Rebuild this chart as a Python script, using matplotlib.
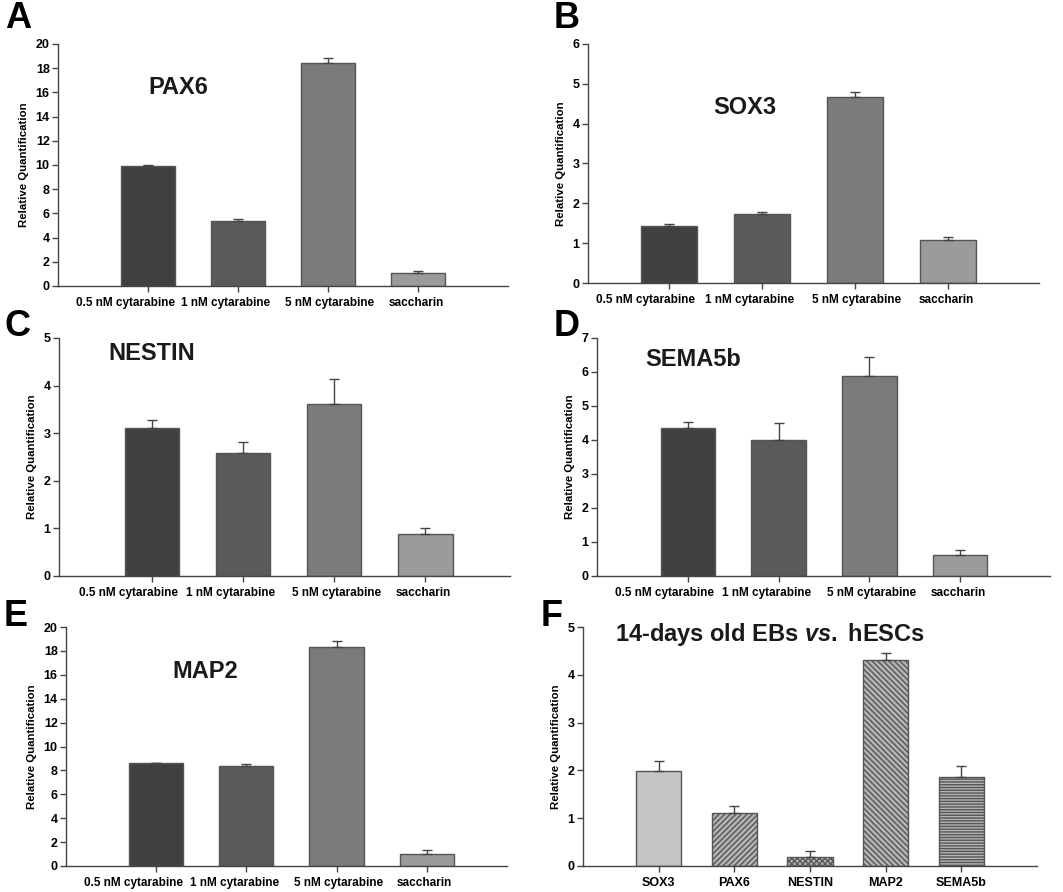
import matplotlib
matplotlib.use('Agg')
from matplotlib import pyplot as plt
from matplotlib.transforms import ScaledTranslation

plt.rcParams['font.family'] = ['Liberation Sans', 'DejaVu Sans']
plt.rcParams['font.weight'] = 'bold'
plt.rcParams['mathtext.fontset'] = 'custom'
plt.rcParams['mathtext.it'] = 'Liberation Sans:italic:bold'
plt.rcParams['mathtext.rm'] = 'Liberation Sans:bold'
plt.rcParams['hatch.linewidth'] = 1.0

# treatments for panels A-E
treatments = ['0.5 nM cytarabine', '1 nM cytarabine', '5 nM cytarabine', 'saccharin']

pax6 = [9.93, 5.34, 18.42, 1.07]
pax6_err = [0.1, 0.17, 0.45, 0.2]

sox3 = [1.42, 1.72, 4.67, 1.08]
sox3_err = [0.07, 0.05, 0.13, 0.08]

nestin = [3.10, 2.59, 3.62, 0.89]
nestin_err = [0.17, 0.22, 0.51, 0.11]

sema5b = [4.35, 4.01, 5.88, 0.61]
sema5b_err = [0.18, 0.50, 0.57, 0.15]

map2 = [8.58, 8.36, 18.36, 1.0]
map2_err = [0.08, 0.16, 0.5, 0.38]

# panel F
genes = ['SOX3', 'PAX6', 'NESTIN', 'MAP2', 'SEMA5b']
eb_vals = [1.98, 1.10, 0.19, 4.32, 1.87]
eb_err = [0.21, 0.15, 0.12, 0.14, 0.22]

bar_colors = ['#404040', '#5a5a5a', '#7b7b7b', '#9b9b9b']
hatches = ['', '//////', 'xxxxxx', '\\\\\\\\\\\\', '------']
# the original tick labels are not centred on their ticks (pixels)
label_shift = [-23, -12, 2, -2]

W, H = 1063, 892
fig = plt.figure(figsize=(W / 100, H / 100), dpi=100)


def make_ax(l, t, r, b):
    return fig.add_axes([l / W, 1 - b / H, (r - l) / W, (b - t) / H])


def style_ax(ax, ymax, ystep, xlim, xsize=8.5):
    ax.set_ylim(0, ymax)
    ax.set_xlim(*xlim)
    ax.set_yticks(range(0, ymax + 1, ystep))
    for s in ['top', 'right']:
        ax.spines[s].set_visible(False)
    for s in ['left', 'bottom']:
        ax.spines[s].set_color('#444444')
        ax.spines[s].set_linewidth(1.0)
    ax.tick_params(axis='y', labelsize=9, length=4, color='#444444', width=1, pad=2)
    ax.tick_params(axis='x', labelsize=xsize, length=4, color='#444444', width=1, pad=4)
    ax.set_ylabel('Relative Quantification', fontsize=8.2, fontweight='bold', labelpad=5)


def draw_panel(ax, vals, errs, ymax, ystep, xlim, title, tx, ty, letter, lx, ly):
    x = range(len(vals))
    ax.bar(x, vals, width=0.6, color=bar_colors, edgecolor='#555555', linewidth=1, zorder=2)
    ax.errorbar(x, vals, yerr=[[0] * len(vals), errs], fmt='none', ecolor='#444444',
                elinewidth=1, capsize=3.5, capthick=1, zorder=3)
    ax.set_xticks(list(x))
    ax.set_xticklabels(treatments)
    style_ax(ax, ymax, ystep, xlim)
    for lab, dx in zip(ax.get_xticklabels(), label_shift):
        lab.set_transform(lab.get_transform() + ScaledTranslation(dx / 100, 0, fig.dpi_scale_trans))
    fig.text(tx / W, 1 - ty / H, title, fontsize=17, fontweight='bold', ha='center', va='center',
             color='#1a1a1a')
    fig.text(lx / W, 1 - ly / H, letter, fontsize=26, fontweight='bold', ha='left', va='center')


axA = make_ax(58, 44, 508, 286)
draw_panel(axA, pax6, pax6_err, 20, 2, (-1, 4), 'PAX6', 178, 87, 'A', 5, 18)

axB = make_ax(588, 44, 1039, 283)
draw_panel(axB, sox3, sox3_err, 6, 1, (-0.87, 3.98), 'SOX3', 745, 107, 'B', 554, 18)

axC = make_ax(59, 338, 510, 576)
draw_panel(axC, nestin, nestin_err, 5, 1, (-1.02, 3.93), 'NESTIN', 152, 353, 'C', 5, 326)

axD = make_ax(597, 338, 1050, 576)
draw_panel(axD, sema5b, sema5b_err, 7, 1, (-1.0, 3.99), 'SEMA5b', 693, 359, 'D', 554, 326)

axE = make_ax(66, 627, 507, 866)
draw_panel(axE, map2, map2_err, 20, 2, (-1.0, 3.89), 'MAP2', 205, 671, 'E', 4, 616)

# panel F with hatched bars
axF = make_ax(583, 627, 1037, 866)
xf = range(len(eb_vals))
for i, v in enumerate(eb_vals):
    fc = '#c4c4c4' if i == 0 else '#b4b4b4'
    axF.bar(i, v, width=0.6, color=fc, edgecolor='#555555', hatch=hatches[i], linewidth=1, zorder=2)
axF.errorbar(xf, eb_vals, yerr=[[0] * len(eb_vals), eb_err], fmt='none', ecolor='#444444',
             elinewidth=1, capsize=3.5, capthick=1, zorder=3)
axF.set_xticks(list(xf))
axF.set_xticklabels(genes)
style_ax(axF, 5, 1, (-1, 5), xsize=9)
fig.text(770 / W, 1 - 634 / H, r'14-days old EBs $\mathit{vs.}$ hESCs', fontsize=17,
         fontweight='bold', ha='center', va='center', color='#1a1a1a')
fig.text(541 / W, 1 - 616 / H, 'F', fontsize=26, fontweight='bold', ha='left', va='center')

fig.savefig('out.png', dpi=100)
